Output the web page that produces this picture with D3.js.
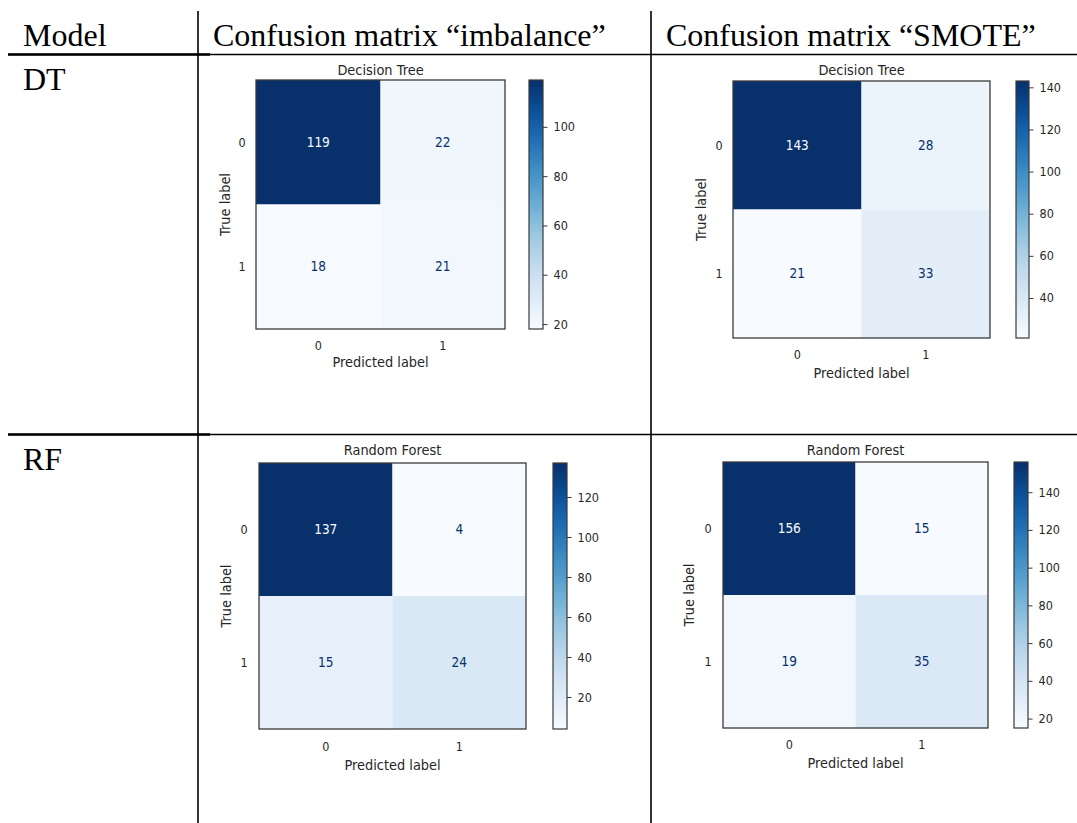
<!DOCTYPE html>
<html>
<head>
<meta charset="utf-8">
<script src="https://cdn.jsdelivr.net/npm/d3@7"></script>
<style>
  html, body { margin: 0; padding: 0; background: #fff; }
  svg { display: block; }
</style>
</head>
<body>
<svg id="chart" width="1077" height="823"></svg>
<script>
// ---------------- DATA ----------------
const columnHeaders = ["Model", "Confusion matrix \u201cimbalance\u201d", "Confusion matrix \u201cSMOTE\u201d"];
const models = ["DT", "RF"];
const modelTitles = ["Decision Tree", "Random Forest"];
const classLabels = ["0", "1"];
const xAxisLabel = "Predicted label";
const yAxisLabel = "True label";

// confusion matrices: rows = true label, cols = predicted label
const dtImbalance = [[119, 22], [18, 21]];
const dtSmote     = [[143, 28], [21, 33]];
const rfImbalance = [[137, 4], [15, 24]];
const rfSmote     = [[156, 15], [19, 35]];

const dtImbalanceTicks = [20, 40, 60, 80, 100];
const dtSmoteTicks     = [40, 60, 80, 100, 120, 140];
const rfImbalanceTicks = [20, 40, 60, 80, 100, 120];
const rfSmoteTicks     = [20, 40, 60, 80, 100, 120, 140];

// ---------------- LAYOUT ----------------
const panels = [
  { m: dtImbalance, ticks: dtImbalanceTicks, title: modelTitles[0],
    hx: [256, 505], hy: [80, 329], cb: [529, 543], ylab: 14, ttl: 31, xt: 17, xl: 33, tt: 10 },
  { m: dtSmote, ticks: dtSmoteTicks, title: modelTitles[0],
    hx: [733, 990], hy: [81, 338], cb: [1016, 1029], ylab: 14, ttl: 32, xt: 17, xl: 35, tt: 11 },
  { m: rfImbalance, ticks: rfImbalanceTicks, title: modelTitles[1],
    hx: [259, 526], hy: [463, 729], cb: [553, 567], ylab: 15, ttl: 33, xt: 18, xl: 36, tt: 13 },
  { m: rfSmote, ticks: rfSmoteTicks, title: modelTitles[1],
    hx: [723, 988], hy: [462, 728], cb: [1014, 1028], ylab: 15, ttl: 34, xt: 17, xl: 35, tt: 12 }
];

const svg = d3.select("#chart");
const textCol = "#262626";
const sans = "'DejaVu Sans', sans-serif";
const serif = "'Liberation Serif', 'Times New Roman', serif";
const SX = 0.9;            // horizontal squeeze of the pasted figure text
const FS_LABEL = 14.4, FS_TICK = 12.5, FS_VAL = 13.5;

// ---------------- TABLE ----------------
const tbl = svg.append("g");
tbl.append("line").attr("x1", 198).attr("x2", 198).attr("y1", 11).attr("y2", 823)
  .attr("stroke", "#000").attr("stroke-width", 1.6);
tbl.append("line").attr("x1", 651).attr("x2", 651).attr("y1", 11).attr("y2", 823)
  .attr("stroke", "#000").attr("stroke-width", 1.6);
[54.5, 434.5].forEach(y => {
  tbl.append("line").attr("x1", 8).attr("x2", 1077).attr("y1", y).attr("y2", y)
    .attr("stroke", "#000").attr("stroke-width", 1.5);
  tbl.append("line").attr("x1", 8).attr("x2", 210).attr("y1", y).attr("y2", y)
    .attr("stroke", "#000").attr("stroke-width", 2.5);
});

const headerX = [23, 213, 666];
tbl.selectAll("text.hdr").data(columnHeaders).join("text")
  .attr("class", "hdr")
  .attr("x", (d, i) => headerX[i]).attr("y", 46)
  .attr("font-family", serif).attr("font-size", 32).attr("fill", "#000")
  .text(d => d);

const modelY = [90, 470];
tbl.selectAll("text.mdl").data(models).join("text")
  .attr("class", "mdl")
  .attr("x", 23).attr("y", (d, i) => modelY[i])
  .attr("font-family", serif).attr("font-size", 32).attr("fill", "#000")
  .text(d => d);

// ---------------- PANELS ----------------
const defs = svg.append("defs");

function sq(sel, fx, fy, rot) {
  sel.attr("transform", (d, i) => `translate(${fx(d, i)},${fy(d, i)})${rot ? " rotate(-90)" : ""} scale(${SX},1)`)
    .attr("dy", "0.35em").attr("text-anchor", "middle").attr("font-family", sans);
  return sel;
}

panels.forEach((p, pi) => {
  const g = svg.append("g");
  const flat = p.m.flat();
  const vmin = d3.min(flat), vmax = d3.max(flat);
  const color = d3.scaleSequential(d3.interpolateBlues).domain([vmin, vmax]);
  const x = d3.scaleBand().domain(classLabels).range(p.hx);
  const y = d3.scaleBand().domain(classLabels).range(p.hy);

  const cells = [];
  p.m.forEach((row, r) => row.forEach((v, c) => cells.push({ r: classLabels[r], c: classLabels[c], v })));

  g.selectAll("rect.cell").data(cells).join("rect")
    .attr("class", "cell")
    .attr("x", d => x(d.c)).attr("y", d => y(d.r))
    .attr("width", x.bandwidth()).attr("height", y.bandwidth())
    .attr("fill", d => color(d.v));

  const thresh = (vmin + vmax) / 2;
  g.selectAll("text.val").data(cells).join("text")
    .attr("class", "val")
    .call(sq, d => x(d.c) + x.bandwidth() / 2, d => y(d.r) + y.bandwidth() / 2)
    .attr("font-size", FS_VAL)
    .attr("fill", d => d.v > thresh ? color(vmin) : color(vmax))
    .text(d => d.v);

  // frame
  g.append("rect")
    .attr("x", p.hx[0]).attr("y", p.hy[0])
    .attr("width", p.hx[1] - p.hx[0]).attr("height", p.hy[1] - p.hy[0])
    .attr("fill", "none").attr("stroke", "#3a3a3a").attr("stroke-width", 1.3);

  // y tick labels
  g.selectAll("text.yt").data(classLabels).join("text")
    .attr("class", "yt")
    .call(sq, () => p.hx[0] - p.ylab, d => y(d) + y.bandwidth() / 2)
    .attr("font-size", FS_TICK).attr("fill", textCol)
    .text(d => d);

  // x tick labels
  g.selectAll("text.xt").data(classLabels).join("text")
    .attr("class", "xt")
    .call(sq, d => x(d) + x.bandwidth() / 2, () => p.hy[1] + p.xt)
    .attr("font-size", FS_TICK).attr("fill", textCol)
    .text(d => d);

  const cx = (p.hx[0] + p.hx[1]) / 2, cy = (p.hy[0] + p.hy[1]) / 2;
  g.append("text")
    .call(sq, () => cx, () => p.hy[1] + p.xl)
    .attr("font-size", FS_LABEL).attr("fill", textCol)
    .text(xAxisLabel);

  g.append("text")
    .call(sq, () => p.hx[0] - p.ttl, () => cy, true)
    .attr("font-size", FS_LABEL).attr("fill", textCol)
    .text(yAxisLabel);

  g.append("text")
    .call(sq, () => cx, () => p.hy[0] - p.tt)
    .attr("font-size", FS_LABEL).attr("fill", textCol)
    .text(p.title);

  // colorbar
  const gid = "grad" + pi;
  const grad = defs.append("linearGradient").attr("id", gid)
    .attr("x1", 0).attr("y1", 1).attr("x2", 0).attr("y2", 0);
  d3.range(0, 1.0001, 0.05).forEach(t => {
    grad.append("stop").attr("offset", t).attr("stop-color", d3.interpolateBlues(t));
  });
  const cbScale = d3.scaleLinear().domain([vmin, vmax]).range([p.hy[1], p.hy[0]]);
  g.append("rect")
    .attr("x", p.cb[0]).attr("y", p.hy[0])
    .attr("width", p.cb[1] - p.cb[0]).attr("height", p.hy[1] - p.hy[0])
    .attr("fill", `url(#${gid})`)
    .attr("stroke", "#3a3a3a").attr("stroke-width", 1.2);

  const ax = g.append("g")
    .attr("transform", `translate(${p.cb[1]},0)`)
    .call(d3.axisRight(cbScale).tickValues(p.ticks).tickSize(4.5).tickPadding(6).tickFormat(d3.format("d")));
  ax.select(".domain").remove();
  ax.selectAll("line").attr("stroke", "#3a3a3a").attr("stroke-width", 1);
  ax.selectAll("text")
    .attr("transform", function () { const xx = +d3.select(this).attr("x"); return `translate(${xx},0) scale(${SX},1)`; })
    .attr("x", 0)
    .attr("font-family", sans).attr("font-size", FS_TICK).attr("fill", textCol);
});
</script>
</body>
</html>
